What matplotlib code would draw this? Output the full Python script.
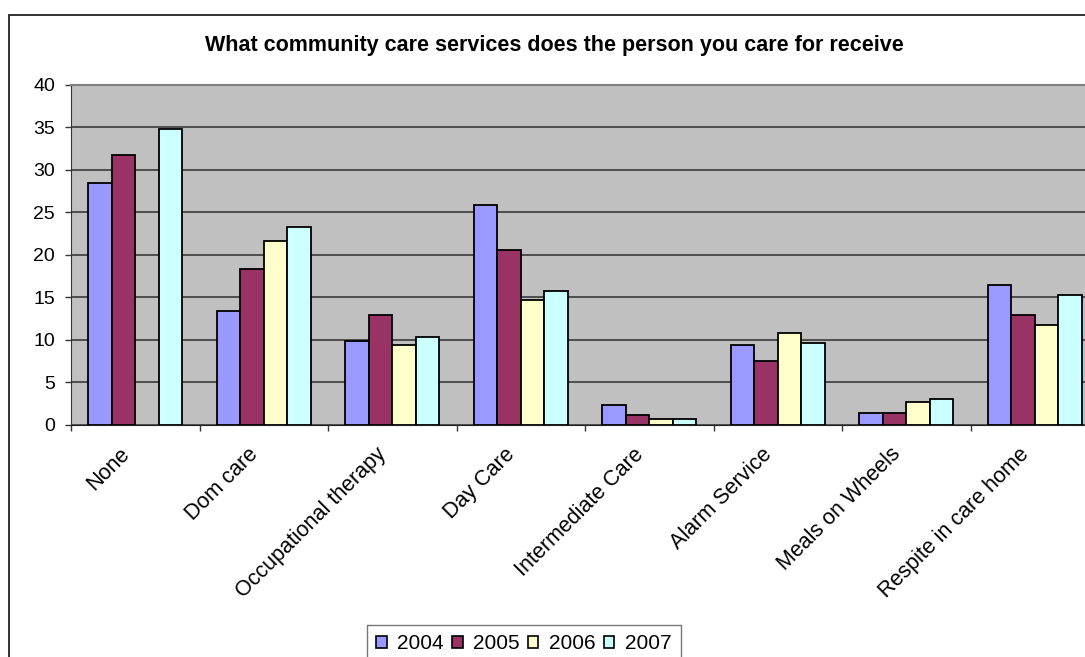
import numpy as np
import matplotlib
matplotlib.use("Agg")
import matplotlib.pyplot as plt
from matplotlib.patches import Rectangle, Patch
from matplotlib.transforms import ScaledTranslation

categories = ["None", "Dom care", "Occupational therapy", "Day Care",
              "Intermediate Care", "Alarm Service", "Meals on Wheels",
              "Respite in care home"]
years = ["2004", "2005", "2006", "2007"]
values_2004 = [28.4, 13.4, 9.8, 25.8, 2.3, 9.3, 1.4, 16.4]
values_2005 = [31.7, 18.3, 12.9, 20.6, 1.1, 7.5, 1.4, 12.9]
values_2006 = [np.nan, 21.6, 9.3, 14.6, 0.6, 10.8, 2.6, 11.7]
values_2007 = [34.8, 23.3, 10.3, 15.7, 0.6, 9.6, 3.0, 15.2]
colors = ["#9999FF", "#993366", "#FFFFCC", "#CCFFFF"]
title = "What community care services does the person you care for receive"

plt.rcParams['font.family'] = ['Liberation Sans', 'DejaVu Sans']

W, H = 1085, 657
fig = plt.figure(figsize=(W / 100, H / 100), dpi=100)
fig.patch.set_facecolor("white")

# chart frame (runs off the right and bottom edges)
top = 1 - 15 / H
fig.patches.append(Rectangle((9 / W, -0.5), 2.0, top + 0.5,
                             transform=fig.transFigure, facecolor="none",
                             edgecolor="#222222", linewidth=1.3))

ax = fig.add_axes([71 / W, 1 - 424.5 / H, 1028 / W, (424.5 - 84.7) / H])
ax.set_facecolor("#C0C0C0")
ax.set_xlim(-0.5, 7.5)
ax.set_ylim(0, 40)

series = [values_2004, values_2005, values_2006, values_2007]
x = np.arange(len(categories))
width = 0.183
for i, (vals, col) in enumerate(zip(series, colors)):
    ax.bar(x + (i - 1.5) * width, vals, width, color=col,
           edgecolor="black", linewidth=1.3, zorder=3)

ax.yaxis.grid(True, color="#2e2e2e", linewidth=1.1)
ax.set_axisbelow(True)

ax.set_yticks(range(0, 41, 5))
ax.tick_params(axis="y", direction="out", length=4.5, width=1.0,
               color="#333333", pad=7, labelsize=14)

ax.set_xticks(np.arange(-0.5, 8, 1))
ax.set_xticklabels([])
ax.tick_params(axis="x", which="major", direction="out", length=4.5,
               width=1.0, color="#333333")
ax.set_xticks(x, minor=True)
ax.set_xticklabels(categories, minor=True)
ax.tick_params(axis="x", which="minor", length=0, pad=12, labelsize=15.5)
shift = ScaledTranslation(-9 / 100, -10 / 100, fig.dpi_scale_trans)
for lbl in ax.get_xticklabels(minor=True):
    lbl.set_rotation(45)
    lbl.set_ha("right")
    lbl.set_va("center")
    lbl.set_rotation_mode("anchor")
    lbl.set_transform(lbl.get_transform() + shift)

ax.spines["top"].set_color("#808080")
ax.spines["top"].set_linewidth(1.5)
ax.spines["left"].set_color("#333333")
ax.spines["bottom"].set_color("#222222")
ax.spines["right"].set_visible(False)

fig.text(554 / W, 1 - 45 / H, title, ha="center", va="center",
         fontsize=15.5, fontweight="bold")

handles = [Patch(facecolor=c, edgecolor="black", linewidth=1.2) for c in colors]
leg = fig.legend(handles, years, loc="upper left",
                 bbox_to_anchor=(367 / W, 1 - 625 / H), ncol=4, fontsize=15,
                 frameon=True, fancybox=False, edgecolor="#555555",
                 handlelength=0.5, handleheight=0.5, handletextpad=0.5,
                 columnspacing=0.4, borderpad=0.45, borderaxespad=0)
leg.get_frame().set_linewidth(1.0)

fig.savefig("out.png", dpi=100)
